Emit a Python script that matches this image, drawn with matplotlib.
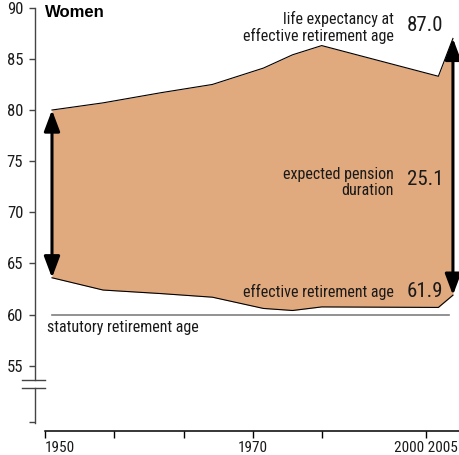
import matplotlib
matplotlib.use('Agg')
from matplotlib import pyplot as plt

plt.rcParams['font.family'] = ['Roboto Condensed', 'DejaVu Sans']

# data
years = [1950, 1957, 1965, 1972, 1979, 1983, 1987, 2003, 2005]
life_exp = [80.0, 80.7, 81.7, 82.5, 84.1, 85.4, 86.3, 83.3, 87.0]   # life expectancy at effective retirement age
eff_age = [63.6, 62.4, 62.05, 61.7, 60.6, 60.4, 60.75, 60.7, 61.9]  # effective retirement age
statutory_age = 60
stat_span = [1950, 2004.5]

yticks = [55, 60, 65, 70, 75, 80, 85, 90]
xticks = [1949.0, 1958.5, 1968.1, 1977.6, 1987.0, 2001.3]
xlabels = ['1950', '', '', '1970', '', '2000 2005']

fill_col = '#E1A97E'
axis_col = '#444444'
txt_col = '#1a1a1a'

fig = plt.figure(figsize=(4.59, 4.55), dpi=100)
ax = fig.add_axes([35 / 459, 32 / 455, 424 / 459, 417 / 455])
ax.set_xlim(1947.67, 2005.83)
ax.set_ylim(49.40, 90.17)

ax.fill_between(years, eff_age, life_exp, color=fill_col, lw=0, zorder=1)
ax.plot(years, life_exp, color='black', lw=0.8, zorder=2)
ax.plot(years, eff_age, color='black', lw=0.8, zorder=2)
ax.plot(stat_span, [statutory_age, statutory_age], color='#7f7f7f', lw=1.2, zorder=2)

# double headed arrows at both ends
arr = dict(arrowstyle='<|-|>,head_length=0.8,head_width=0.3', lw=2.2, color='black',
           mutation_scale=16, shrinkA=0, shrinkB=0)
ax.annotate('', xy=(years[0], eff_age[0]), xytext=(years[0], life_exp[0]), arrowprops=arr, zorder=3)
ax.annotate('', xy=(years[-1], eff_age[-1]), xytext=(years[-1], life_exp[-1]), arrowprops=arr, zorder=3)

# axes styling
for s in ['top', 'right']:
    ax.spines[s].set_visible(False)
ax.spines['left'].set_bounds(53.6, 90)
ax.spines['left'].set_color(axis_col)
ax.spines['left'].set_linewidth(1.0)
ax.spines['bottom'].set_position(('outward', 6))
ax.spines['bottom'].set_bounds(xticks[0], 2005.83)
ax.spines['bottom'].set_linewidth(1.1)

ax.set_yticks([49.5] + yticks)
ax.set_yticklabels([''] + [str(v) for v in yticks])
ax.tick_params(axis='y', direction='out', length=4.5, width=1.0, color=axis_col,
               labelsize=12, pad=4, labelcolor=txt_col)
ax.set_xticks(xticks)
ax.set_xticklabels(xlabels)
ax.tick_params(axis='x', direction='out', length=5, width=1.0, labelsize=11, pad=2,
               labelcolor=txt_col)
lbls = ax.get_xticklabels()
lbls[0].set_ha('left')
lbls[-1].set_ha('center')

# broken axis below 55
yt = ax.get_yaxis_transform()
ax.plot([0, 0], [52.85, 49.40], color=axis_col, lw=1.0, transform=yt, clip_on=False)
for yb in [53.6, 52.85]:
    ax.plot([-0.031, 0.024], [yb, yb], color=axis_col, lw=1.0, transform=yt, clip_on=False)

# texts
ax.text(1949.0, 89.5, 'Women', family=['Liberation Sans', 'DejaVu Sans'], weight='bold',
        fontsize=12, ha='left', va='center')
ax.text(1996.9, 88.1, 'life expectancy at\neffective retirement age', fontsize=11.5,
        ha='right', va='center', linespacing=1.08, color=txt_col)
ax.text(1998.7, 88.3, '87.0', fontsize=15, ha='left', va='center', color=txt_col)
ax.text(1996.9, 72.9, 'expected pension\nduration', fontsize=11.5,
        ha='right', va='center', linespacing=1.08, color=txt_col)
ax.text(1998.7, 73.2, '25.1', fontsize=15, ha='left', va='center', color=txt_col)
ax.text(1996.9, 62.2, 'effective retirement age', fontsize=11.5, ha='right', va='center',
        color=txt_col)
ax.text(1998.7, 62.3, '61.9', fontsize=15, ha='left', va='center', color=txt_col)
ax.text(1949.3, 58.7, 'statutory retirement age', fontsize=11.5, ha='left', va='center',
        color=txt_col)

fig.savefig('out.png', dpi=100)
